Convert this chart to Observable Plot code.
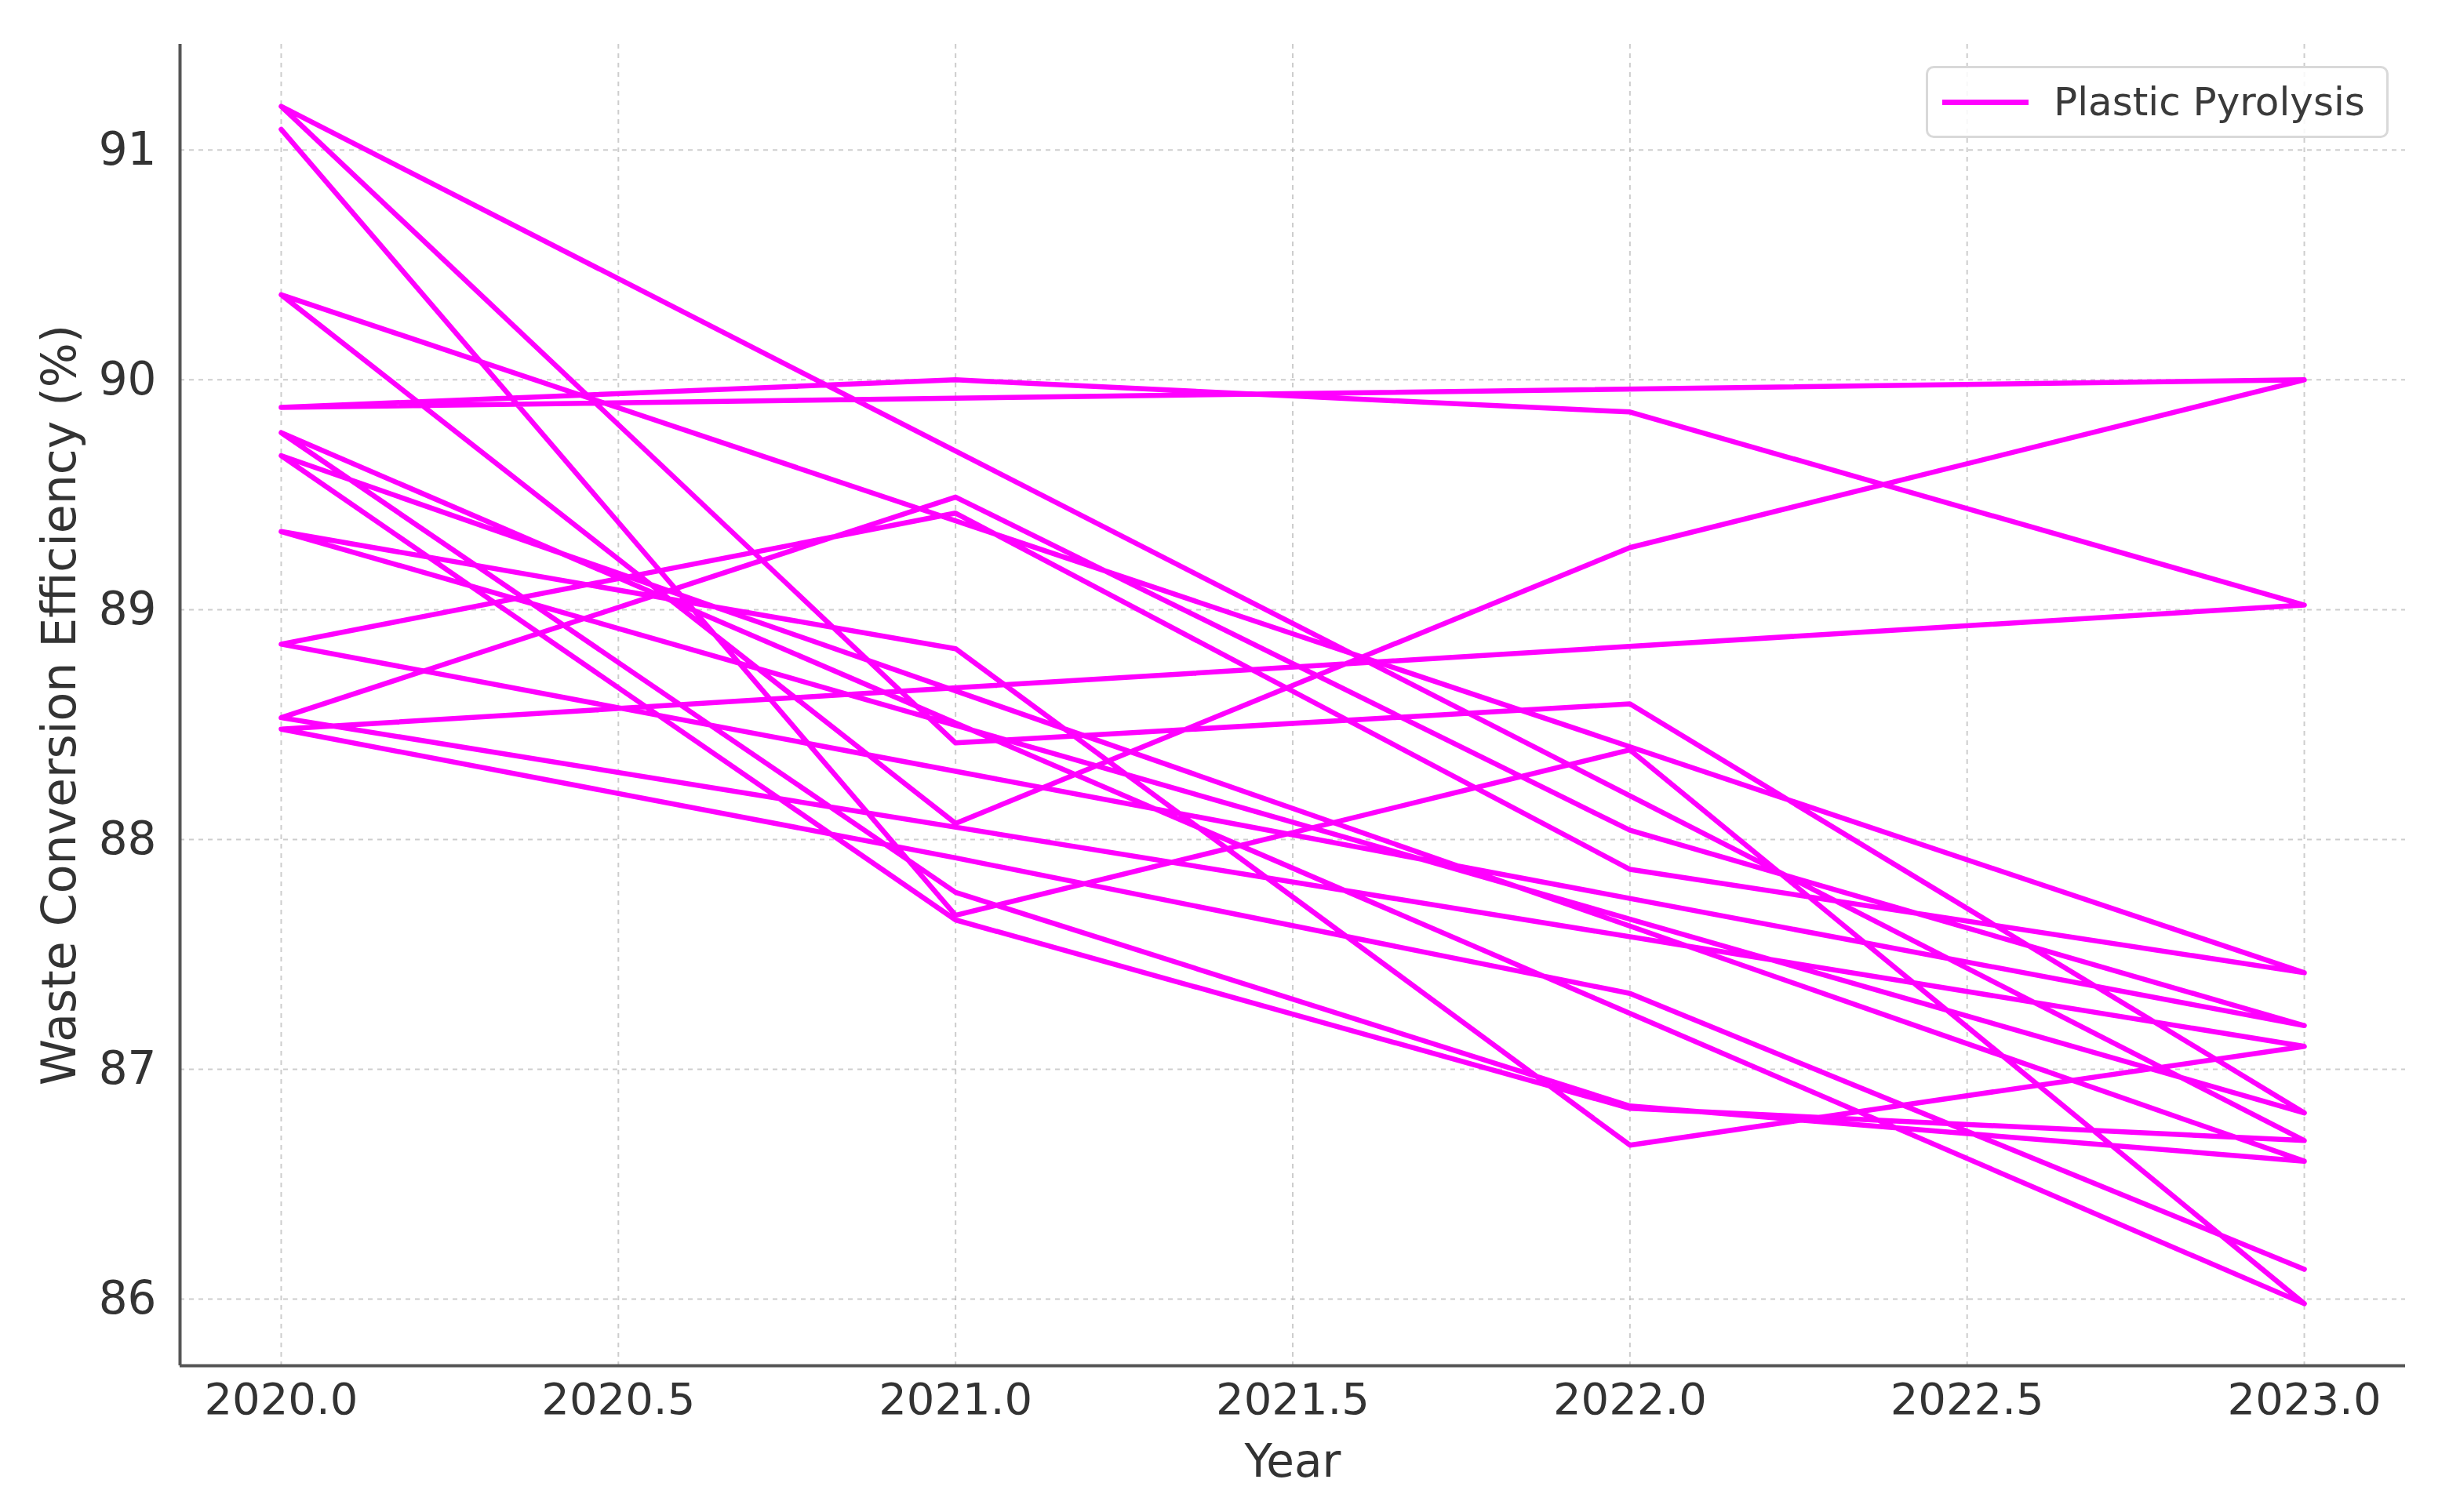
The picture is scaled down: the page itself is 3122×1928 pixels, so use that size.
<!DOCTYPE html>
<html>
<head>
<meta charset="utf-8">
<script src="https://cdn.jsdelivr.net/npm/d3@7"></script>
<script src="https://cdn.jsdelivr.net/npm/@observablehq/plot@0.6"></script>
<style>
  html, body { margin: 0; padding: 0; background: #fff; }
  #wrap { position: relative; width: 3122px; height: 1928px; font-family: "DejaVu Sans", sans-serif; }
  #legend {
    position: absolute; left: 2455px; top: 84px; width: 590px; height: 92px;
    box-sizing: border-box; border: 3px solid #d9d9d9; border-radius: 10px; background: rgba(255,255,255,0.85);
    display: flex; align-items: center;
  }
  #legend .swatch { width: 110px; height: 7px; background: #ff00ff; margin-left: 18px; }
  #legend .label { margin-left: 32px; font-size: 50px; color: #3a3a3a; white-space: nowrap; }
</style>
</head>
<body>
<div id="wrap">
  <div id="chart"></div>
  <div id="legend"><div class="swatch"></div><div class="label">Plastic Pyrolysis</div></div>
</div>
<script>
// Data (one continuous series, 2020→2023 repeated)
const years = [
  2020, 2021, 2022, 2023,
  2020, 2021, 2022, 2023,
  2020, 2021, 2022, 2023,
  2020, 2021, 2022, 2023,
  2020, 2021, 2022, 2023,
  2020, 2021, 2022, 2023,
  2020, 2021, 2022, 2023,
  2020, 2021, 2022, 2023,
  2020, 2021, 2022, 2023,
  2020, 2021, 2022, 2023
];
const efficiency = [
  91.09, 87.67, 88.39, 85.98,
  89.77, 87.77, 86.84, 86.60,
  89.67, 87.65, 86.83, 86.69,
  91.19, 88.42, 88.59, 86.81,
  89.34, 88.83, 86.67, 87.10,
  88.53, 89.49, 88.04, 87.19,
  88.85, 89.42, 87.87, 87.42,
  90.37, 88.07, 89.27, 90.00,
  89.88, 90.00, 89.86, 89.02,
  88.48, 87.92, 87.33, 86.13
];
const seriesName = "Plastic Pyrolysis";
const xTicks = [2020, 2020.5, 2021, 2021.5, 2022, 2022.5, 2023];
const yTicks = [86, 87, 88, 89, 90, 91];
const xLabel = "Year";
const yLabel = "Waste Conversion Efficiency (%)";

const data = years.map((y, i) => ({year: y, value: efficiency[i]}));
const xDomain = [2019.85, 2023.15];
const yDomain = [85.71, 91.46];

const chart = Plot.plot({
  width: 3122,
  height: 1928,
  marginLeft: 229,
  marginRight: 56,
  marginTop: 56,
  marginBottom: 187,
  style: {fontFamily: "DejaVu Sans, sans-serif", background: "#fff", color: "#333"},
  x: {domain: xDomain},
  y: {domain: yDomain},
  marks: [
    Plot.gridX(xTicks, {stroke: "#b8b8b8", strokeOpacity: 0.7, strokeWidth: 2, strokeDasharray: "6,6"}),
    Plot.gridY(yTicks, {stroke: "#b8b8b8", strokeOpacity: 0.7, strokeWidth: 2, strokeDasharray: "6,6"}),
    Plot.line(data, {x: "year", y: "value", stroke: "#ff00ff", strokeWidth: 6.5, strokeLinejoin: "round", strokeLinecap: "round"}),
    Plot.ruleX([xDomain[0]], {stroke: "#555", strokeWidth: 4}),
    Plot.ruleY([yDomain[0]], {stroke: "#555", strokeWidth: 4}),
    Plot.axisX(xTicks, {tickFormat: d3.format(".1f"), fontSize: 56, tickSize: 0, tickPadding: 22, label: null}),
    Plot.axisY(yTicks, {tickFormat: d => String(d), fontSize: 58, tickSize: 0, tickPadding: 30, label: null}),
    Plot.text([xLabel], {frameAnchor: "bottom", dy: 141, fontSize: 58, fill: "#333"}),
    Plot.text([yLabel], {frameAnchor: "left", textAnchor: "middle", dx: -153, rotate: -90, fontSize: 60, fill: "#333"})
  ]
});
document.getElementById("chart").appendChild(chart);
</script>
</body>
</html>
